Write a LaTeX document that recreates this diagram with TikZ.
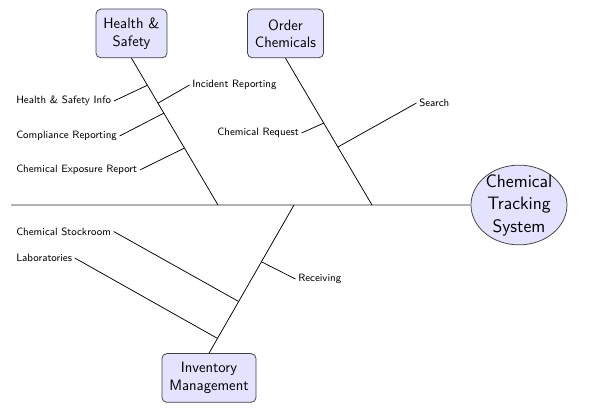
\documentclass[tikz,border=0pt]{standalone}
\usepackage{tikz}
\usetikzlibrary{positioning,shapes.geometric}

\tikzset{
    category/.style={draw=black!75, semithick, fill=blue!11, rounded corners=4pt, align=center,
        font=\sffamily\large, inner xsep=6pt, inner ysep=5pt, minimum height=39pt},
    effect/.style={ellipse, draw=black!75, semithick, fill=blue!11, align=center,
        font=\sffamily\Large, inner xsep=0.5pt, inner ysep=-2pt},
    cause/.style={font=\sffamily\fontsize{8.5}{10}\selectfont, inner sep=2pt},
    spine/.style={gray!60, line width=1.6pt},
    bone/.style={black, semithick}
}

\begin{document}
\begin{tikzpicture}[x=0.8pt, y=-0.8pt]
    \useasboundingbox (0,0) rectangle (591,411);

    % Head and spine
    \node[effect] (cts) at (519,205) {Chemical\\Tracking\\System};
    \coordinate (tail) at (11,205);
    \draw[spine] (tail) -- (cts);

    % Main categories
    \node[category] (hs) at (131.5,33.5) {Health \&\\Safety};
    \node[category] (oc) at (285.5,33.5) {Order\\Chemicals};
    \node[category] (im) at (209,378) {Inventory\\Management};

    % Where the bones meet the spine
    \coordinate (hsend) at (218,205);
    \coordinate (ocend) at (372,205);
    \coordinate (imend) at (294,205);

    % Bones, with points for the smaller causes
    \draw[bone] (hs.south) -- coordinate[pos=0.184] (hs1) coordinate[pos=0.306] (hs2)
        coordinate[pos=0.374] (hs3) coordinate[pos=0.612] (hs4) (hsend);
    \draw[bone] (oc.south) -- coordinate[pos=0.442] (oc1) coordinate[pos=0.605] (oc2) (ocend);
    \draw[bone] (im.north) -- coordinate[pos=0.10] (im1) coordinate[pos=0.349] (im2)
        coordinate[pos=0.617] (im3) (imend);

    % Health & Safety causes
    \node[cause, anchor=west] (hsinfo) at (13.5,101) {Health \& Safety Info};
    \node[cause, anchor=west] (comp) at (13.5,136) {Compliance Reporting};
    \node[cause, anchor=west] (expo) at (13.5,170) {Chemical Exposure Report};
    \node[cause, anchor=west] (incid) at (189.5,85) {Incident Reporting};
    \draw[bone] (hsinfo.east) -- (hs1);
    \draw[bone] (incid.west) -- (hs2);
    \draw[bone] (comp.east) -- (hs3);
    \draw[bone] (expo.east) -- (hs4);

    % Order Chemicals causes
    \node[cause, anchor=east] (req) at (301.5,133) {Chemical Request};
    \node[cause, anchor=west] (search) at (416.5,103) {Search};
    \draw[bone] (req.east) -- (oc1);
    \draw[bone] (search.west) -- (oc2);

    % Inventory Management causes
    \node[cause, anchor=west] (stock) at (13.5,231.5) {Chemical Stockroom};
    \node[cause, anchor=west] (labs) at (13.5,258) {Laboratories};
    \node[cause, anchor=west] (recv) at (295.5,279) {Receiving};
    \draw[bone] (labs.east) -- (im1);
    \draw[bone] (stock.east) -- (im2);
    \draw[bone] (recv.west) -- (im3);
\end{tikzpicture}
\end{document}
